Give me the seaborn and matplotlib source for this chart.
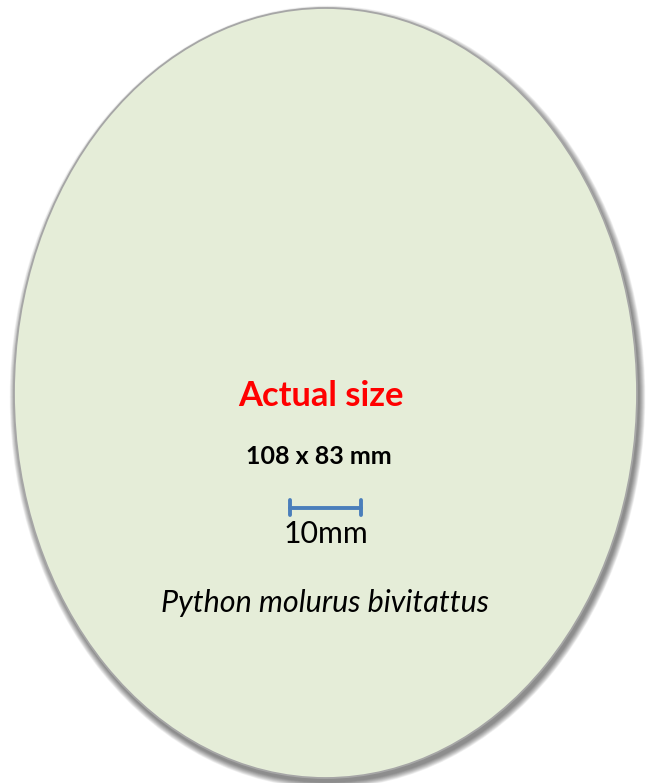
import numpy as np
import pandas as pd
import matplotlib
matplotlib.use("Agg")
import matplotlib.pyplot as plt
from matplotlib.patches import Ellipse
import seaborn as sns

# ---- content ----
egg_dims_mm = [108, 83]          # height x width
scale_bar_mm = 10
title_text = "Actual size"
species = "Python molurus bivitattus"

sns.set_theme(style="white")
plt.rcParams['font.family'] = ['Lato', 'DejaVu Sans']

W, H = 647, 783
fig = plt.figure(figsize=(W / 100, H / 100), dpi=100)
ax = fig.add_axes([0, 0, 1, 1])
ax.set_xlim(0, W)
ax.set_ylim(H, 0)
ax.axis("off")

# egg geometry (pixel layout)
cx, cy = 325.5, 393.0
ew, eh = 623.0, 770.0

# soft shadow
n = 14
for i in range(n):
    grow = 1.0 + i * 0.9
    ax.add_patch(Ellipse((cx + 2.0, cy + 4.0), ew + grow, eh + grow,
                         facecolor="#000000", edgecolor="none",
                         alpha=0.04, zorder=1))

ax.add_patch(Ellipse((cx, cy), ew, eh, facecolor="#e5edd8",
                     edgecolor="#a6a6a6", linewidth=1.3, zorder=2))

# texts
ax.text(320.5, 406, title_text, color="#ff0000", fontsize=24.8,
        fontweight="bold", ha="center", va="baseline", zorder=5)
ax.text(319, 464, f"{egg_dims_mm[0]} x {egg_dims_mm[1]} mm", color="#000000",
        fontsize=18, fontweight="bold", ha="center", va="baseline", zorder=5)
ax.text(326, 543, f"{scale_bar_mm}mm", color="#000000", fontsize=21.8,
        ha="center", va="baseline", zorder=5)
ax.text(325, 612, species, color="#000000", fontsize=22, style="italic",
        ha="center", va="baseline", zorder=5)

# scale bar
x0 = 290.0
px_per_mm = 7.1
x1 = x0 + scale_bar_mm * px_per_mm
yb = 508.0
bar = pd.DataFrame({
    "x": [x0, x1, x0, x0, x1, x1],
    "y": [yb, yb, yb - 8, yb + 7, yb - 8, yb + 7],
    "seg": [0, 0, 1, 1, 2, 2],
})
sns.lineplot(data=bar, x="x", y="y", units="seg", estimator=None, sort=False,
             color="#4a7ebb", linewidth=2.8, ax=ax, zorder=6, legend=False)
ax.set_xlim(0, W)
ax.set_ylim(H, 0)
ax.axis("off")

fig.savefig("out.png", dpi=100)
